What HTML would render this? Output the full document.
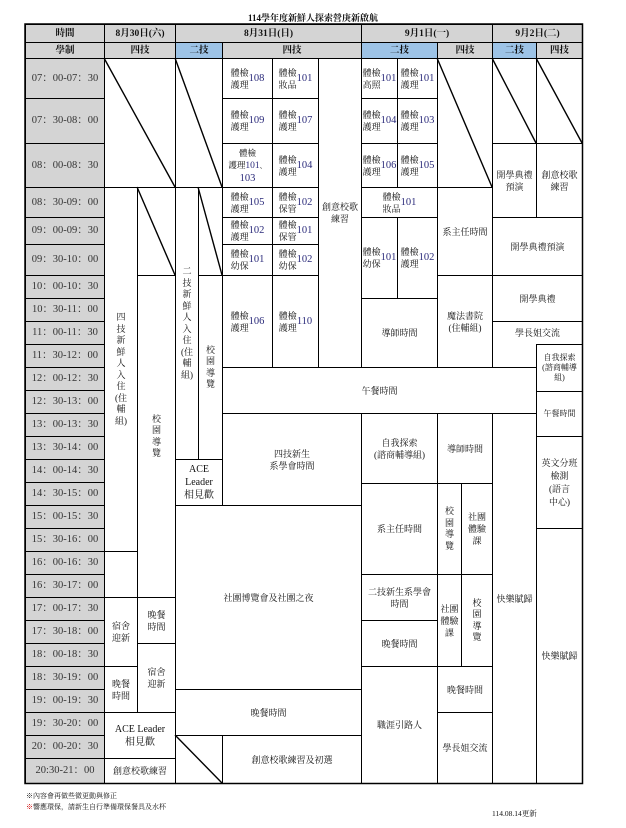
<!DOCTYPE html>
<html><head><meta charset="utf-8">
<style>
*{margin:0;padding:0;box-sizing:border-box}
body{width:626px;height:828px;background:#fff;position:relative;overflow:hidden;font-family:"Liberation Serif","Noto Serif CJK SC","Noto Sans CJK TC",serif;color:#111}
.c{position:absolute;border:1px solid #000;display:flex;align-items:center;justify-content:center;text-align:center;font-size:9px;line-height:12px;background:#fff;white-space:nowrap}
.g{background:#d4d4d4}
.b{background:#9dc3e6}
.t{background:#d4d4d4;font-size:10.5px;color:#333}
.h{font-size:9.5px;font-weight:bold}
.n{color:#2a2a7a;font-size:10.5px}
.s{font-size:8px;line-height:10px}
.v{line-height:11.5px}
</style></head><body>
<div style="position:absolute;left:0;width:626px;top:11px;text-align:center;font-size:9px;font-weight:bold">114學年度新鮮人探索營庚新啟航</div>

<div class="c g h" style="left:25px;top:24px;width:80px;height:19px">時間</div>
<div class="c g h" style="left:104px;top:24px;width:72px;height:19px">8月30日(六)</div>
<div class="c g h" style="left:175px;top:24px;width:187px;height:19px">8月31日(日)</div>
<div class="c g h" style="left:361px;top:24px;width:132px;height:19px">9月1日(一)</div>
<div class="c g h" style="left:492px;top:24px;width:91px;height:19px">9月2日(二)</div>
<div class="c g h" style="left:25px;top:42px;width:80px;height:17px">學制</div>
<div class="c g h" style="left:104px;top:42px;width:72px;height:17px">四技</div>
<div class="c b h" style="left:175px;top:42px;width:48px;height:17px">二技</div>
<div class="c g h" style="left:222px;top:42px;width:140px;height:17px">四技</div>
<div class="c b h" style="left:361px;top:42px;width:77px;height:17px">二技</div>
<div class="c g h" style="left:437px;top:42px;width:56px;height:17px">四技</div>
<div class="c b h" style="left:492px;top:42px;width:45px;height:17px">二技</div>
<div class="c g h" style="left:536px;top:42px;width:47px;height:17px">四技</div>

<div class="c t" style="left:25px;top:58px;width:80px;height:41px">07：00-07：30</div>
<div class="c t" style="left:25px;top:98px;width:80px;height:46px">07：30-08：00</div>
<div class="c t" style="left:25px;top:143px;width:80px;height:45px">08：00-08：30</div>
<div class="c t" style="left:25px;top:187px;width:80px;height:31px">08：30-09：00</div>
<div class="c t" style="left:25px;top:217px;width:80px;height:28px">09：00-09：30</div>
<div class="c t" style="left:25px;top:244px;width:80px;height:32px">09：30-10：00</div>
<div class="c t" style="left:25px;top:275px;width:80px;height:24px">10：00-10：30</div>
<div class="c t" style="left:25px;top:298px;width:80px;height:24px">10：30-11：00</div>
<div class="c t" style="left:25px;top:321px;width:80px;height:24px">11：00-11：30</div>
<div class="c t" style="left:25px;top:344px;width:80px;height:24px">11：30-12：00</div>
<div class="c t" style="left:25px;top:367px;width:80px;height:24px">12：00-12：30</div>
<div class="c t" style="left:25px;top:390px;width:80px;height:24px">12：30-13：00</div>
<div class="c t" style="left:25px;top:413px;width:80px;height:24px">13：00-13：30</div>
<div class="c t" style="left:25px;top:436px;width:80px;height:24px">13：30-14：00</div>
<div class="c t" style="left:25px;top:459px;width:80px;height:24px">14：00-14：30</div>
<div class="c t" style="left:25px;top:482px;width:80px;height:24px">14：30-15：00</div>
<div class="c t" style="left:25px;top:505px;width:80px;height:24px">15：00-15：30</div>
<div class="c t" style="left:25px;top:528px;width:80px;height:24px">15：30-16：00</div>
<div class="c t" style="left:25px;top:551px;width:80px;height:24px">16：00-16：30</div>
<div class="c t" style="left:25px;top:574px;width:80px;height:24px">16：30-17：00</div>
<div class="c t" style="left:25px;top:597px;width:80px;height:24px">17：00-17：30</div>
<div class="c t" style="left:25px;top:620px;width:80px;height:24px">17：30-18：00</div>
<div class="c t" style="left:25px;top:643px;width:80px;height:24px">18：00-18：30</div>
<div class="c t" style="left:25px;top:666px;width:80px;height:24px">18：30-19：00</div>
<div class="c t" style="left:25px;top:689px;width:80px;height:24px">19：00-19：30</div>
<div class="c t" style="left:25px;top:712px;width:80px;height:24px">19：30-20：00</div>
<div class="c t" style="left:25px;top:735px;width:80px;height:24px">20：00-20：30</div>
<div class="c t" style="left:25px;top:758px;width:80px;height:26px">20:30-21：00</div>

<div class="c" style="left:104px;top:58px;width:72px;height:130px"></div>
<div class="c v" style="left:104px;top:187px;width:34px;height:365px">四<br>技<br>新<br>鮮<br>人<br>入<br>住<br>(住<br>輔<br>組)</div>
<div class="c" style="left:137px;top:187px;width:39px;height:89px"></div>
<div class="c v" style="left:137px;top:275px;width:39px;height:323px">校<br>園<br>導<br>覽</div>
<div class="c" style="left:104px;top:551px;width:34px;height:47px"></div>
<div class="c" style="left:104px;top:597px;width:34px;height:70px">宿舍<br>迎新</div>
<div class="c" style="left:137px;top:597px;width:39px;height:47px">晚餐<br>時間</div>
<div class="c" style="left:137px;top:643px;width:39px;height:70px">宿舍<br>迎新</div>
<div class="c" style="left:104px;top:666px;width:34px;height:47px">晚餐<br>時間</div>
<div class="c" style="left:104px;top:712px;width:72px;height:47px;font-size:10px;line-height:13px">ACE Leader<br>相見歡</div>
<div class="c" style="left:104px;top:758px;width:72px;height:26px">創意校歌練習</div>

<div class="c" style="left:175px;top:58px;width:48px;height:130px"></div>
<div class="c v" style="left:175px;top:187px;width:24px;height:273px">二<br>技<br>新<br>鮮<br>人<br>入<br>住<br>(住<br>輔<br>組)</div>
<div class="c" style="left:198px;top:187px;width:25px;height:89px"></div>
<div class="c v" style="left:198px;top:275px;width:25px;height:185px">校<br>園<br>導<br>覽</div>
<div class="c" style="left:175px;top:459px;width:48px;height:47px;font-size:10px;line-height:13px">ACE<br>Leader<br>相見歡</div>

<div class="c" style="left:222px;top:58px;width:51px;height:41px">體檢<br>護理<span class="n">108</span></div>
<div class="c" style="left:272px;top:58px;width:47px;height:41px">體檢<br>妝品<span class="n">101</span></div>
<div class="c" style="left:222px;top:98px;width:51px;height:46px">體檢<br>護理<span class="n">109</span></div>
<div class="c" style="left:272px;top:98px;width:47px;height:46px">體檢<br>護理<span class="n">107</span></div>
<div class="c" style="left:222px;top:143px;width:51px;height:45px;font-size:8.5px"><div>體檢<br>護理<span class="n" style="font-size:9.5px">101</span><span style="font-size:7px">、</span><br><span class="n">103</span></div></div>
<div class="c" style="left:272px;top:143px;width:47px;height:45px">體檢<br>護理<span class="n">104</span></div>
<div class="c" style="left:222px;top:187px;width:51px;height:31px">體檢<br>護理<span class="n">105</span></div>
<div class="c" style="left:272px;top:187px;width:47px;height:31px">體檢<br>保管<span class="n">102</span></div>
<div class="c" style="left:222px;top:217px;width:51px;height:28px">體檢<br>護理<span class="n">102</span></div>
<div class="c" style="left:272px;top:217px;width:47px;height:28px">體檢<br>保管<span class="n">101</span></div>
<div class="c" style="left:222px;top:244px;width:51px;height:32px">體檢<br>幼保<span class="n">101</span></div>
<div class="c" style="left:272px;top:244px;width:47px;height:32px">體檢<br>幼保<span class="n">102</span></div>
<div class="c" style="left:222px;top:275px;width:51px;height:93px">體檢<br>護理<span class="n">106</span></div>
<div class="c" style="left:272px;top:275px;width:47px;height:93px">體檢<br>護理<span class="n">110</span></div>
<div class="c" style="left:318px;top:58px;width:44px;height:310px">創意校歌<br>練習</div>
<div class="c" style="left:222px;top:367px;width:315px;height:47px">午餐時間</div>
<div class="c" style="left:222px;top:413px;width:140px;height:93px">四技新生<br>系學會時間</div>
<div class="c" style="left:175px;top:505px;width:187px;height:185px">社團博覽會及社團之夜</div>
<div class="c" style="left:175px;top:689px;width:187px;height:47px">晚餐時間</div>
<div class="c" style="left:175px;top:735px;width:48px;height:49px"></div>
<div class="c" style="left:222px;top:735px;width:140px;height:49px">創意校歌練習及初選</div>

<div class="c" style="left:361px;top:58px;width:37px;height:41px">體檢<br>高照<br><span class="n">101</span></div>
<div class="c" style="left:397px;top:58px;width:41px;height:41px">體檢<br>護理<span class="n">101</span></div>
<div class="c" style="left:361px;top:98px;width:37px;height:46px">體檢<br>護理<br><span class="n">104</span></div>
<div class="c" style="left:397px;top:98px;width:41px;height:46px">體檢<br>護理<span class="n">103</span></div>
<div class="c" style="left:361px;top:143px;width:37px;height:45px">體檢<br>護理<br><span class="n">106</span></div>
<div class="c" style="left:397px;top:143px;width:41px;height:45px">體檢<br>護理<span class="n">105</span></div>
<div class="c" style="left:361px;top:187px;width:77px;height:31px">體檢<br>妝品<span class="n">101</span></div>
<div class="c" style="left:361px;top:217px;width:37px;height:82px">體檢<br>幼保<br><span class="n">101</span></div>
<div class="c" style="left:397px;top:217px;width:41px;height:82px">體檢<br>護理<span class="n">102</span></div>
<div class="c" style="left:361px;top:298px;width:77px;height:70px">導師時間</div>
<div class="c" style="left:437px;top:58px;width:56px;height:130px"></div>
<div class="c" style="left:437px;top:187px;width:56px;height:89px">系主任時間</div>
<div class="c" style="left:437px;top:275px;width:56px;height:93px">魔法書院<br>(住輔組)</div>
<div class="c" style="left:361px;top:413px;width:77px;height:71px">自我探索<br>(諮商輔導組)</div>
<div class="c" style="left:437px;top:413px;width:56px;height:71px">導師時間</div>
<div class="c" style="left:361px;top:483px;width:77px;height:92px">系主任時間</div>
<div class="c v" style="left:437px;top:483px;width:25px;height:92px">校<br>園<br>導<br>覽</div>
<div class="c" style="left:461px;top:483px;width:32px;height:92px">社團<br>體驗<br>課</div>
<div class="c" style="left:361px;top:574px;width:77px;height:47px">二技新生系學會<br>時間</div>
<div class="c" style="left:361px;top:620px;width:77px;height:47px">晚餐時間</div>
<div class="c" style="left:437px;top:574px;width:25px;height:93px">社團<br>體驗<br>課</div>
<div class="c v" style="left:461px;top:574px;width:32px;height:93px">校<br>園<br>導<br>覽</div>
<div class="c" style="left:361px;top:666px;width:77px;height:118px">職涯引路人</div>
<div class="c" style="left:437px;top:666px;width:56px;height:47px">晚餐時間</div>
<div class="c" style="left:437px;top:712px;width:56px;height:72px">學長姐交流</div>

<div class="c" style="left:492px;top:58px;width:45px;height:86px"></div>
<div class="c" style="left:536px;top:58px;width:47px;height:86px"></div>
<div class="c" style="left:492px;top:143px;width:45px;height:75px">開學典禮<br>預演</div>
<div class="c" style="left:536px;top:143px;width:47px;height:75px">創意校歌<br>練習</div>
<div class="c" style="left:492px;top:217px;width:91px;height:59px">開學典禮預演</div>
<div class="c" style="left:492px;top:275px;width:91px;height:47px">開學典禮</div>
<div class="c" style="left:492px;top:321px;width:91px;height:47px;align-items:flex-start;padding-top:5px">學長姐交流</div>
<div class="c s" style="left:536px;top:344px;width:47px;height:48px">自我探索<br>(諮商輔導<br>組)</div>
<div class="c s" style="left:536px;top:391px;width:47px;height:46px">午餐時間</div>
<div class="c" style="left:536px;top:436px;width:47px;height:93px;line-height:13px">英文分班<br>檢測<br>(語言<br>中心)</div>
<div class="c" style="left:492px;top:413px;width:45px;height:371px">快樂賦歸</div>
<div class="c" style="left:536px;top:528px;width:47px;height:256px">快樂賦歸</div>

<svg style="position:absolute;left:0;top:0" width="626" height="828">
<g stroke="#000" stroke-width="1.4">
<line x1="104" y1="58" x2="175" y2="187"/>
<line x1="175" y1="58" x2="222" y2="187"/>
<line x1="137" y1="187" x2="175" y2="275"/>
<line x1="198" y1="187" x2="222" y2="275"/>
<line x1="437" y1="58" x2="492" y2="187"/>
<line x1="492" y1="58" x2="536" y2="143"/>
<line x1="536" y1="58" x2="582" y2="143"/>
<line x1="175" y1="735" x2="222" y2="783"/>
</g>
<rect x="25" y="24" width="557.5" height="759.5" fill="none" stroke="#000" stroke-width="1.5"/>
</svg>

<div style="position:absolute;left:26px;top:791px;font-size:7px;line-height:11px">※內容會再做些微更動與修正<br><span style="color:#c00">※</span>響應環保，請新生自行準備環保餐具及水杯</div>
<div style="position:absolute;left:492px;top:808px;font-size:7.5px">114.08.14更新</div>
</body></html>
